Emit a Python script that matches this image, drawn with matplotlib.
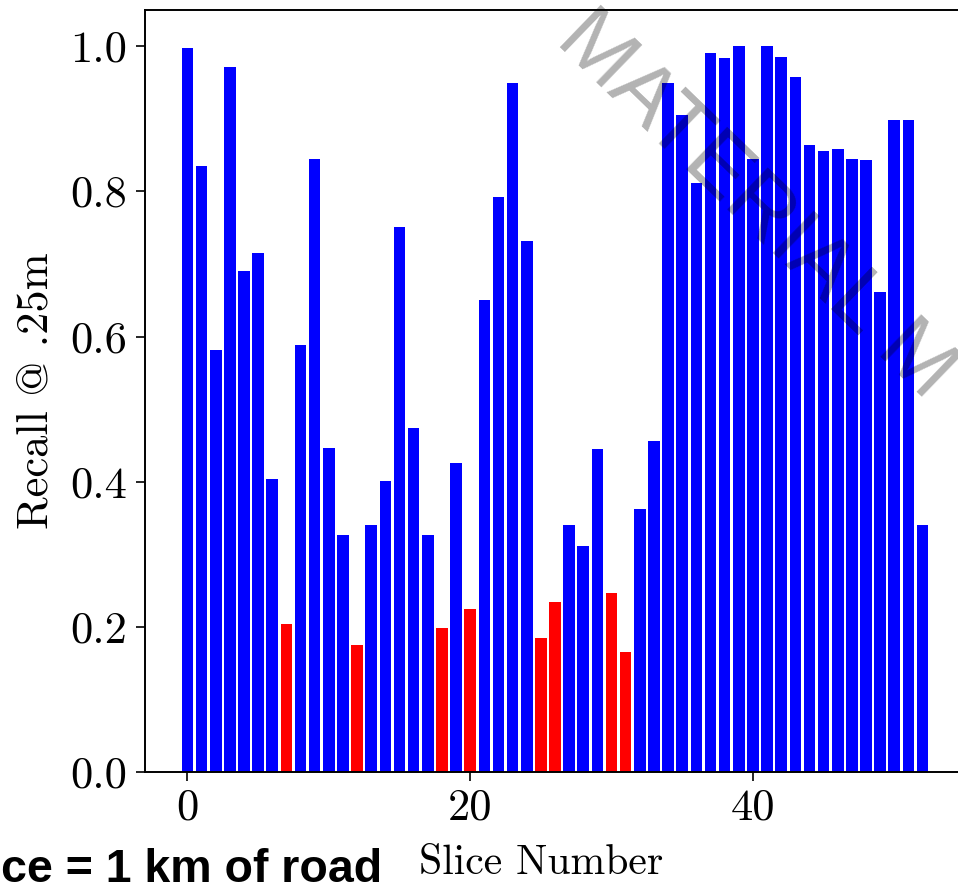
import matplotlib
matplotlib.use("Agg")
import matplotlib.pyplot as plt
import numpy as np

# ---- data ----
slices = list(range(53))
recall = [0.998, 0.835, 0.581, 0.971, 0.691, 0.715, 0.404, 0.204, 0.589, 0.844,
          0.446, 0.327, 0.175, 0.340, 0.401, 0.751, 0.474, 0.326, 0.198, 0.426,
          0.224, 0.650, 0.793, 0.950, 0.732, 0.184, 0.234, 0.340, 0.311, 0.445,
          0.246, 0.165, 0.362, 0.456, 0.949, 0.906, 0.812, 0.991, 0.984, 1.000,
          0.844, 1.000, 0.985, 0.958, 0.864, 0.856, 0.858, 0.844, 0.843, 0.662,
          0.898, 0.898, 0.341]
threshold = 0.25
x_ticks = [0, 20, 40]
y_ticks = [0.0, 0.2, 0.4, 0.6, 0.8, 1.0]
x_label = "Slice Number"
y_label = "Recall @ .25m"
note_text = "ce = 1 km of road"
watermark = "MATERIAL M"

plt.rcParams['font.family'] = ['cmr10', 'DejaVu Serif']
plt.rcParams['axes.unicode_minus'] = False
plt.rcParams['mathtext.fontset'] = 'cm'

W, H = 958, 885
fig = plt.figure(figsize=(W / 100, H / 100), dpi=100)
ax = fig.add_axes([144.5 / W, 1 - 772 / H, (965.5 - 144.5) / W, (772 - 10) / H])

colors = ['#ff0000' if v < threshold else '#0000ff' for v in recall]
ax.bar(slices, recall, width=0.82, color=colors, linewidth=0)
ax.set_xlim(-3.04, 55.04)
ax.set_ylim(0, 1.05)
ax.set_xticks(x_ticks)
ax.set_yticks(y_ticks)
ax.set_yticklabels([f"{t:.1f}" for t in y_ticks])
ax.tick_params(axis='both', labelsize=32, length=6.5, width=1.2, pad=6, direction='out')
ax.tick_params(axis='x', pad=5)
for s in ax.spines.values():
    s.set_linewidth(1.4)

ax.set_xlabel(x_label, fontsize=30, labelpad=14)
ax.xaxis.set_label_coords((541 - 144.5) / (965.5 - 144.5), -0.095)
ax.set_ylabel(y_label, fontsize=32, labelpad=10)

fig.text(1 / W, 3 / H, note_text, fontsize=33.5, fontweight='bold',
         family='Liberation Sans', ha='left', va='baseline')

fig.text(570 / W, 1 - 26 / H, watermark, fontsize=62, family='Liberation Sans',
         rotation=-44, rotation_mode='anchor', ha='left', va='center',
         color='black', alpha=0.3)

fig.savefig("out.png", dpi=100)
